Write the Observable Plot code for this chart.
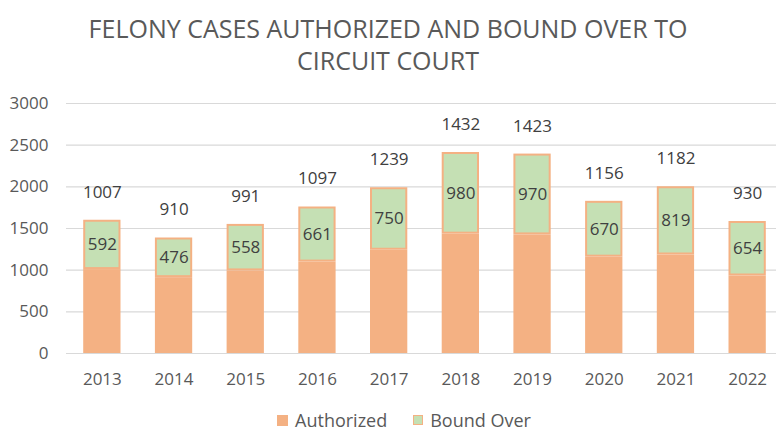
<!DOCTYPE html>
<html>
<head>
<meta charset="utf-8">
<script src="https://cdn.jsdelivr.net/npm/d3@7"></script>
<script src="https://cdn.jsdelivr.net/npm/@observablehq/plot@0.6"></script>
<style>
  body { margin: 0; background: #fff; font-family: "Open Sans", sans-serif; }
  #wrap { width: 776px; height: 432px; position: relative; overflow: hidden; }
  #title { height: 88px; box-sizing: border-box; padding-top: 12px; text-align: center; font-size: 25px; line-height: 32px; color: #595959; }
  #legend { position: absolute; top: 409px; left: 16px; width: 776px; display: flex; justify-content: center; gap: 26px; font-size: 18px; color: #595959; line-height: 22px; }
  .item { display: flex; align-items: center; gap: 7px; }
  .sw { width: 11px; height: 11px; display: inline-block; }
</style>
</head>
<body>
<div id="wrap">
  <div id="title">FELONY CASES AUTHORIZED AND BOUND OVER TO<br>CIRCUIT COURT</div>
  <div id="chart"></div>
  <div id="legend">
    <span class="item"><span class="sw" style="background:#F4B183"></span>Authorized</span>
    <span class="item"><span class="sw" style="background:#C5E0B4;border:1.5px solid #F4B183;width:8px;height:8px"></span>Bound Over</span>
  </div>
</div>
<script>
const years = ["2013","2014","2015","2016","2017","2018","2019","2020","2021","2022"];
const authorized = [1007, 910, 991, 1097, 1239, 1432, 1423, 1156, 1182, 930];
const boundOver = [592, 476, 558, 661, 750, 980, 970, 670, 819, 654];
const yTicks = [0, 500, 1000, 1500, 2000, 2500, 3000];

const rows = years.map((y, i) => ({year: y, a: authorized[i], b: boundOver[i], total: authorized[i] + boundOver[i]}));

const orange = "#F4B183", green = "#C5E0B4";

const chart = Plot.plot({
  width: 776,
  height: 312,
  marginTop: 15,
  marginBottom: 47,
  marginLeft: 66,
  marginRight: -7,
  style: {fontFamily: "Open Sans, sans-serif", fontSize: "17px", color: "#595959", background: "white"},
  x: {domain: years, paddingInner: 0.48, paddingOuter: 0.24, round: false, label: null},
  y: {domain: [0, 3000], ticks: yTicks, label: null},
  marks: [
    Plot.gridY(yTicks, {stroke: "#d9d9d9", strokeOpacity: 1, strokeWidth: 1.2}),
    Plot.axisY(yTicks, {tickSize: 0, tickPadding: 18, fontSize: 17, fill: "#595959", tickFormat: d3.format("d"), label: null}),
    Plot.axisX({tickSize: 0, tickPadding: 19, fontSize: 17, fill: "#595959", label: null}),
    Plot.barY(rows, {x: "year", y1: 0, y2: "a", fill: orange}),
    Plot.barY(rows, {x: "year", y1: "a", y2: "total", fill: green, stroke: orange, strokeWidth: 2, inset: 1}),
    Plot.text(rows, {x: "year", y: d => d.a + d.b / 2, text: d => String(d.b), fill: "#404040", fontSize: 17}),
    Plot.text(rows, {x: "year", y: "total", text: d => String(d.a), dy: -28, fill: "#404040", fontSize: 17})
  ]
});
document.getElementById("chart").appendChild(chart);
</script>
</body>
</html>
